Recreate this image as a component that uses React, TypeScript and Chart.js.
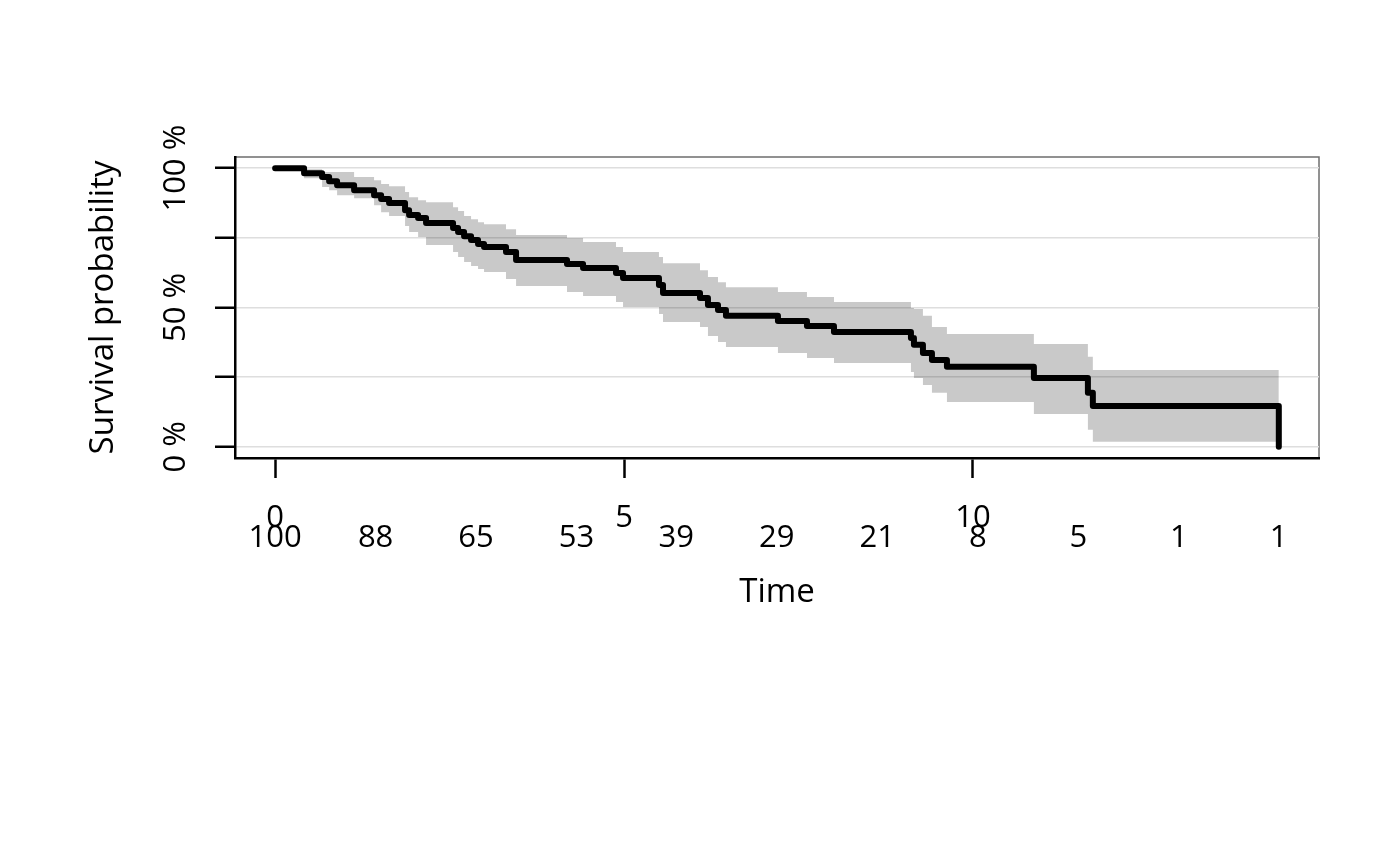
import { useEffect, useRef } from 'react';
import { Chart, registerables } from 'chart.js';
Chart.register(...registerables);

// Kaplan-Meier steps (time, survival after the event, CI bounds)
const times = [0, 0.415, 0.673, 0.774, 0.888, 1.132, 1.418, 1.519, 1.633, 1.862,
  1.92, 2.049, 2.163, 2.55, 2.622, 2.708, 2.808, 2.908, 2.994, 3.309,
  3.453, 4.183, 4.413, 4.885, 4.986, 5.501, 5.559, 6.089, 6.203, 6.347,
  6.461, 7.206, 7.622, 8.009, 9.112, 9.155, 9.284, 9.413, 9.628, 10.874,
  11.648, 11.719, 14.384];
const surv = [1, 0.982, 0.968, 0.953, 0.939, 0.921, 0.903, 0.889, 0.875, 0.849,
  0.832, 0.821, 0.803, 0.785, 0.771, 0.756, 0.742, 0.728, 0.717, 0.699,
  0.67, 0.656, 0.642, 0.624, 0.606, 0.581, 0.552, 0.534, 0.509, 0.491,
  0.47, 0.452, 0.434, 0.412, 0.391, 0.366, 0.337, 0.312, 0.287, 0.247,
  0.194, 0.147, 0];
const upper = [1, 0.996, 0.986, 0.986, 0.986, 0.968, 0.957, 0.943, 0.935, 0.914,
  0.896, 0.885, 0.878, 0.86, 0.846, 0.828, 0.817, 0.806, 0.799, 0.781,
  0.76, 0.749, 0.735, 0.717, 0.699, 0.681, 0.659, 0.634, 0.609, 0.591,
  0.573, 0.556, 0.538, 0.52, 0.498, 0.495, 0.47, 0.43, 0.405, 0.369,
  0.323, 0.276, 0.276];
const lower = [1, 0.964, 0.932, 0.921, 0.903, 0.892, 0.867, 0.842, 0.828, 0.792,
  0.771, 0.753, 0.724, 0.699, 0.681, 0.663, 0.649, 0.638, 0.627, 0.602,
  0.577, 0.556, 0.541, 0.52, 0.502, 0.477, 0.448, 0.43, 0.398, 0.376,
  0.358, 0.337, 0.319, 0.301, 0.269, 0.247, 0.222, 0.194, 0.161, 0.118,
  0.061, 0.018, 0.018];

// number at risk row
const riskTimes = [0, 1.44, 2.88, 4.32, 5.75, 7.19, 8.63, 10.07, 11.51, 12.95, 14.38];
const atRisk = [100, 88, 65, 53, 39, 29, 21, 8, 5, 1, 1];

const timeTicks = [0, 5, 10];
const yTicks = [0, 0.25, 0.5, 0.75, 1];
const yTickLabels = ['0 %', '', '50 %', '', '100 %'];

const pts = (ys: number[]) => times.map((t, i) => ({ x: t, y: ys[i] }));

const frame = {
  id: 'frame',
  beforeDraw(chart: any) {
    const { ctx, chartArea: a } = chart;
    ctx.save();
    ctx.strokeStyle = '#6e6e6e';
    ctx.lineWidth = 1.5;
    ctx.strokeRect(a.left, a.top, a.right - a.left, a.bottom - a.top);
    ctx.restore();
  },
};

export default function App() {
  const ref = useRef<HTMLCanvasElement>(null);

  useEffect(() => {
    Chart.defaults.font.family = "'Open Sans', sans-serif";
    Chart.defaults.color = '#000';
    const tickFont = { size: 31 };
    const titleFont = { size: 33 };

    const chart = new Chart(ref.current!, {
      type: 'line',
      data: {
        datasets: [
          {
            label: 'Survival', data: pts(surv), order: 0,
            borderColor: '#000', borderWidth: 6, stepped: 'before',
            borderCapStyle: 'round', borderJoinStyle: 'round',
            pointRadius: 0, fill: false,
          },
          {
            label: 'Upper', data: pts(upper), order: 1,
            borderWidth: 0, stepped: 'before', pointRadius: 0,
            fill: '+1', backgroundColor: 'rgba(0,0,0,0.21)',
          },
          {
            label: 'Lower', data: pts(lower), order: 2,
            borderWidth: 0, stepped: 'before', pointRadius: 0, fill: false,
          },
        ],
      },
      options: {
        animation: false,
        responsive: true,
        maintainAspectRatio: false,
        layout: { padding: { top: 157, right: 81, bottom: 253.2, left: 0 } },
        plugins: { legend: { display: false }, tooltip: { enabled: false } },
        scales: {
          x: {
            type: 'linear', min: -0.575, max: 14.96,
            // time ticks plus the number-at-risk positions, one label row each
            afterBuildTicks: (s: any) => {
              const vals = Array.from(new Set([...timeTicks, ...riskTimes])).sort((a, b) => a - b);
              s.ticks = vals.map(v => ({ value: v }));
            },
            afterFit: (s: any) => { s.height = 154.8; },
            grid: {
              drawOnChartArea: false, tickLength: 20, tickWidth: 2.5,
              tickColor: (c: any) => (timeTicks.includes(c.tick?.value) ? '#000' : 'rgba(0,0,0,0)'),
            },
            border: { color: '#000', width: 2.5 },
            ticks: {
              font: { size: 31, lineHeight: '20.5px' }, padding: 29.5, autoSkip: false, maxRotation: 0,
              callback: (v: any) => {
                const k = riskTimes.indexOf(v);
                return [timeTicks.includes(v) ? String(v) : '', k >= 0 ? String(atRisk[k]) : ''];
              },
            },
            title: { display: true, text: 'Time', font: titleFont, padding: 0 },
          },
          y: {
            min: -0.04, max: 1.04,
            afterBuildTicks: (s: any) => { s.ticks = yTicks.map(v => ({ value: v })); },
            afterFit: (s: any) => { s.width = 235; },
            grid: { color: '#dedede', lineWidth: 1.5, tickLength: 20, tickColor: '#000', tickWidth: 2.5 },
            border: { color: '#000', width: 2.5 },
            ticks: {
              font: tickFont, minRotation: 90, maxRotation: 90, crossAlign: 'center', padding: -5,
              autoSkip: false,
              callback: (_v: any, i: number) => yTickLabels[i],
            },
            title: { display: true, text: 'Survival probability', font: titleFont, padding: { top: 83.6, bottom: 0 } },
          },
        },
      },
      plugins: [frame],
    } as any);

    return () => { chart.destroy(); };
  }, []);

  return (
    <div style={{ position: 'fixed', left: 0, top: 0, width: 1400, height: 866, background: '#fff' }}>
      <canvas ref={ref} />
    </div>
  );
}
